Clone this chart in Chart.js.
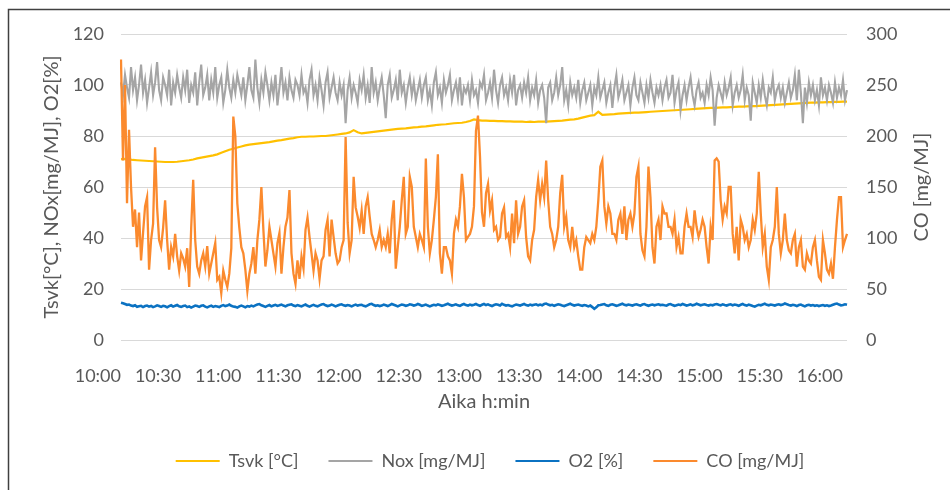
<!DOCTYPE html>
<html>
<head>
<meta charset="utf-8">
<script src="https://cdn.jsdelivr.net/npm/chart.js@4/dist/chart.umd.min.js"></script>
<style>
  html, body { margin: 0; padding: 0; background: #ffffff; }
  #wrap { width: 950px; height: 490px; }
</style>
</head>
<body>
<div id="wrap"><canvas id="chart" width="950" height="490"></canvas></div>
<script>
// ===============================
// BOILER LOG: Tsvk / NOx / O2 / CO
// ===============================

// one reading per minute from 10:00
const startHour = 10;
const stepMin = 1;
const sampleCount = 363;

// Tsvk [°C], left axis, read every 2 minutes
const tsvk = [
  70.9, 71.0, 70.8, 70.6, 70.5, 70.4, 70.3, 70.2, 70.1, 70.0, 69.9, 69.8, 69.8, 69.8, 69.9,
  70.1, 70.3, 70.5, 70.8, 71.2, 71.5, 71.8, 72.1, 72.4, 72.8, 73.4, 74.0, 74.6, 75.0, 75.5,
  75.9, 76.3, 76.6, 76.8, 77.0, 77.2, 77.4, 77.6, 77.9, 78.2, 78.4, 78.7, 79.0, 79.2, 79.5,
  79.7, 79.7, 79.8, 79.8, 79.9, 80.0, 80.0, 80.2, 80.4, 80.6, 80.8, 81.0, 81.4, 82.3, 81.5,
  81.0, 81.2, 81.4, 81.6, 81.8, 82.0, 82.2, 82.4, 82.6, 82.8, 82.9, 83.0, 83.2, 83.4, 83.5,
  83.7, 83.8, 84.0, 84.2, 84.4, 84.5, 84.6, 84.8, 85.0, 85.1, 85.2, 85.5, 85.9, 86.5, 86.2,
  86.0, 86.0, 85.9, 85.9, 85.8, 85.8, 85.7, 85.7, 85.6, 85.6, 85.6, 85.5, 85.6, 85.5, 85.6,
  85.6, 85.6, 85.7, 85.8, 85.9, 86.0, 86.2, 86.4, 86.5, 86.8, 87.2, 87.6, 88.0, 88.2, 89.5,
  88.3, 88.4, 88.5, 88.6, 88.8, 88.9, 89.0, 89.1, 89.2, 89.2, 89.3, 89.4, 89.5, 89.6, 89.7,
  89.8, 89.9, 90.0, 90.1, 90.2, 90.3, 90.4, 90.5, 90.6, 90.7, 90.8, 90.9, 91.0, 91.0, 91.1,
  91.2, 91.2, 91.3, 91.4, 91.5, 91.5, 91.6, 91.7, 91.7, 91.8, 91.9, 92.0, 92.1, 92.2, 92.3,
  92.4, 92.5, 92.6, 92.7, 92.8, 92.9, 93.0, 93.1, 93.1, 93.2, 93.2, 93.3, 93.3, 93.4, 93.4,
  93.5, 93.5
];

// NOx [mg/MJ], left axis
const nox = [
  101, 96, 104, 99, 95, 107, 98, 103, 94, 100, 108, 97, 102, 93, 99, 105, 96, 101, 109, 98, 94, 103, 100, 96, 106, 92, 101, 97, 104, 99,
  95, 103, 98, 106, 93, 100, 97, 105, 92, 101, 108, 96, 99, 104, 94, 102, 97, 107, 95, 100, 103, 93, 98, 106, 99, 95, 102, 97, 104, 100,
  96, 103, 94, 100, 107, 98, 95, 110, 99, 93, 102, 97, 105, 100, 94, 101, 96, 104, 92, 99, 107, 97, 101, 94, 103, 98, 95, 102, 100, 96,
  104, 97, 99, 93, 102, 106, 96, 100, 94, 103, 98, 92, 101, 105, 95, 99, 103, 97, 94, 101, 96, 100, 85, 98, 103, 95, 100, 97, 93, 102,
  98, 104, 95, 100, 93, 107, 97, 101, 94, 99, 103, 96, 87, 100, 104, 95, 98, 102, 94, 106, 97, 100, 93, 99, 103, 96, 101, 94, 98, 102,
  95, 100, 103, 94, 98, 92, 101, 105, 96, 99, 93, 102, 97, 100, 104, 94, 98, 101, 95, 103, 92, 99, 97, 100, 94, 102, 96, 98, 93, 101,
  99, 104, 94, 97, 101, 95, 106, 98, 93, 100, 103, 96, 99, 94, 102, 97, 104, 92, 98, 100, 95, 101, 97, 103, 94, 99, 96, 102, 93, 98,
  100, 95, 85, 99, 101, 94, 97, 103, 96, 100, 107, 94, 98, 92, 101, 96, 99, 95, 102, 93, 98, 101, 94, 97, 100, 92, 99, 96, 103, 95,
  98, 101, 93, 97, 100, 91, 99, 104, 95, 98, 102, 94, 97, 100, 92, 99, 103, 96, 94, 101, 97, 93, 100, 95, 102, 97, 93, 99, 96, 100,
  94, 99, 102, 95, 97, 104, 93, 98, 101, 90, 96, 100, 94, 99, 103, 96, 92, 98, 101, 95, 97, 93, 100, 96, 103, 98, 84, 95, 100, 97,
  94, 101, 96, 99, 103, 92, 97, 100, 95, 98, 104, 94, 99, 96, 86, 101, 97, 93, 100, 95, 102, 96, 92, 99, 97, 103, 94, 98, 100, 95,
  99, 93, 97, 101, 95, 98, 104, 94, 106, 97, 85, 99, 93, 101, 96, 100, 94, 98, 92, 103, 96, 99, 94, 100, 97, 93, 101, 95, 99, 96,
  102, 94, 98
];

// O2 [%], left axis
const o2 = [
  14.6, 14.4, 14.1, 13.8, 13.9, 13.5, 13.3, 13.6, 13.0, 13.2, 13.4, 12.9, 13.3, 13.5, 13.1, 13.4, 12.9, 13.2, 13.6, 13.3, 13.0, 13.4, 13.2, 12.8, 13.3, 13.6, 13.1, 13.4, 13.7, 13.2,
  13.0, 13.3, 13.5, 12.9, 13.2, 12.7, 13.1, 13.5, 13.3, 13.0, 13.4, 13.6, 13.1, 12.8, 13.2, 13.5, 13.0, 13.3, 13.1, 12.9, 13.4, 13.7, 13.3, 13.5, 13.9, 13.4, 13.1, 13.0, 12.7, 13.2,
  13.5, 13.2, 12.8, 13.3, 13.1, 13.5, 13.2, 13.6, 13.9, 14.1, 13.6, 13.3, 13.0, 13.4, 13.7, 13.2, 13.5, 13.8, 13.4, 13.6, 13.9, 13.5, 13.2, 13.6, 13.8, 14.0, 13.5, 13.3, 13.7, 13.4,
  13.2, 13.6, 13.9, 13.4, 13.1, 13.5, 13.8, 13.4, 13.2, 13.6, 13.9, 14.1, 13.6, 13.3, 13.5, 13.9, 13.6, 13.2, 13.5, 13.8, 14.0, 13.6, 13.4, 13.7, 13.5, 13.2, 13.6, 13.9, 13.5, 13.7,
  13.8, 13.4, 13.2, 13.6, 14.0, 14.2, 13.7, 13.4, 13.6, 13.3, 13.5, 13.9, 13.6, 13.3, 13.7, 14.1, 13.8, 13.5, 13.2, 13.6, 13.9, 13.7, 13.4, 13.6, 14.0, 13.8, 13.5, 13.7, 14.1, 13.8,
  13.4, 13.6, 13.9, 13.5, 13.2, 13.5, 13.8, 13.6, 14.0, 13.7, 13.4, 13.6, 13.9, 14.2, 13.8, 13.5, 13.7, 14.0, 13.6, 13.4, 13.8, 14.1, 13.7, 13.5, 13.9, 13.6, 13.8, 14.1, 13.7, 13.4,
  13.8, 14.1, 13.7, 14.0, 13.6, 13.3, 13.7, 14.0, 13.8, 13.5, 14.2, 13.8, 13.5, 13.7, 13.4, 13.2, 13.6, 13.9, 13.7, 13.5, 13.8, 14.1, 13.7, 13.5, 13.9, 13.6, 13.8, 14.0, 13.6, 13.9,
  13.6, 14.1, 14.3, 13.9, 13.6, 13.8, 13.4, 13.7, 14.0, 13.8, 13.5, 13.3, 13.6, 13.9, 14.2, 13.8, 13.5, 13.7, 13.9, 13.6, 13.4, 13.7, 13.5, 13.2, 13.5, 12.9, 12.2, 12.8, 13.6, 13.7,
  13.9, 14.1, 13.6, 13.4, 13.8, 14.0, 13.7, 13.4, 13.6, 13.9, 14.2, 13.8, 13.6, 13.9, 13.7, 13.5, 13.8, 14.0, 13.7, 13.5, 13.9, 14.1, 13.7, 13.4, 13.7, 13.9, 13.6, 13.8, 14.0, 13.7,
  13.8, 13.6, 13.5, 13.9, 14.1, 13.7, 13.4, 13.6, 13.9, 13.7, 14.1, 13.8, 13.5, 13.7, 14.0, 13.6, 13.8, 14.2, 13.9, 13.6, 13.8, 14.0, 13.7, 13.5, 13.8, 13.6, 13.9, 14.1, 13.8, 13.6,
  14.0, 13.7, 13.5, 13.8, 14.0, 13.6, 13.9, 13.7, 13.4, 13.8, 14.1, 13.7, 13.5, 13.9, 13.6, 13.3, 13.1, 13.5, 13.8, 13.6, 13.9, 14.2, 13.8, 13.6, 13.9, 13.7, 13.5, 13.8, 14.0, 13.7,
  13.9, 14.3, 14.0, 13.7, 13.5, 13.8, 13.6, 13.3, 13.7, 13.9, 13.5, 13.2, 13.6, 13.8, 13.5, 13.7, 13.4, 13.6, 13.3, 13.5, 13.7, 13.4, 13.6, 13.3, 13.5, 13.8, 14.1, 14.3, 13.9, 13.6,
  13.7, 14.0, 13.8
];

// CO [mg/MJ], right axis
const co = [
  275, 176, 250, 134, 206, 150, 111, 128, 91, 125, 78, 105, 131, 140, 69, 98, 114, 189, 130, 98, 91, 110, 137, 98, 69, 91, 82, 104, 82, 68,
  85, 80, 72, 90, 52, 110, 157, 98, 72, 65, 78, 85, 72, 92, 65, 75, 85, 95, 59, 62, 46, 68, 59, 52, 65, 90, 219, 200, 134, 110,
  91, 85, 69, 48, 65, 75, 91, 65, 98, 118, 150, 108, 72, 88, 111, 98, 85, 72, 95, 105, 65, 91, 111, 120, 147, 85, 65, 55, 78, 60,
  82, 70, 108, 120, 101, 85, 68, 85, 78, 60, 78, 82, 108, 118, 82, 118, 101, 85, 75, 78, 91, 98, 199, 115, 85, 98, 160, 130, 121, 110,
  127, 104, 131, 140, 121, 104, 98, 91, 98, 108, 91, 98, 91, 104, 85, 118, 137, 70, 91, 111, 137, 160, 104, 111, 160, 150, 111, 101, 91, 104,
  98, 91, 178, 111, 85, 98, 118, 140, 182, 85, 65, 91, 91, 82, 78, 65, 104, 118, 111, 131, 163, 140, 98, 101, 104, 111, 131, 205, 220, 180,
  125, 111, 144, 153, 127, 137, 108, 111, 98, 101, 124, 130, 101, 104, 91, 124, 95, 137, 104, 111, 131, 137, 101, 82, 78, 98, 108, 140, 157, 137,
  153, 140, 176, 137, 111, 104, 91, 98, 111, 144, 162, 111, 121, 98, 91, 111, 91, 98, 82, 69, 69, 91, 101, 98, 95, 104, 98, 111, 137, 170,
  176, 131, 114, 131, 124, 104, 104, 98, 118, 124, 104, 131, 98, 118, 124, 111, 124, 160, 170, 104, 88, 82, 111, 170, 140, 91, 75, 111, 118, 98,
  131, 124, 124, 111, 111, 104, 118, 91, 101, 85, 85, 111, 124, 111, 111, 101, 127, 111, 101, 108, 118, 111, 91, 75, 111, 98, 176, 178, 175, 137,
  118, 131, 124, 150, 150, 104, 85, 111, 78, 118, 111, 98, 104, 91, 98, 118, 108, 124, 165, 124, 91, 104, 72, 59, 91, 98, 111, 150, 104, 85,
  98, 124, 98, 88, 85, 98, 104, 72, 91, 98, 72, 69, 85, 78, 75, 91, 98, 78, 62, 59, 98, 85, 69, 65, 75, 60, 91, 118, 140, 140,
  91, 98, 104
];

const leftTicks = [0, 20, 40, 60, 80, 100, 120];
const rightTicks = [0, 50, 100, 150, 200, 250, 300];

// time labels h:mm
const times = [];
for (let i = 0; i < sampleCount; i++) {
    const t = startHour * 60 + i * stepMin;
    times.push(Math.floor(t / 60) + ":" + String(t % 60).padStart(2, "0"));
}

// Tsvk was read every second minute, the line spans the gaps
const tsvkPoints = times.map((t, i) => (i % 2 === 0 ? tsvk[i / 2] : null));

const textColor = "#595959";
const fontFamily = "Lato, 'Open Sans', sans-serif";

Chart.defaults.font.family = fontFamily;
Chart.defaults.color = textColor;

// outer frame + right-hand axis title (reads bottom to top like the left one)
const framePlugin = {
    id: "frame",
    beforeDraw(chart) {
        const ctx = chart.ctx;
        ctx.save();
        ctx.fillStyle = "#ffffff";
        ctx.fillRect(0, 0, chart.width, chart.height);
        ctx.strokeStyle = "#404040";
        ctx.lineWidth = 1.5;
        ctx.strokeRect(8.5, 9.5, 1200, 1200);
        ctx.restore();
    },
    afterDraw(chart) {
        const ctx = chart.ctx;
        const area = chart.chartArea;
        ctx.save();
        ctx.translate(922, (area.top + area.bottom) / 2);
        ctx.rotate(-Math.PI / 2);
        ctx.fillStyle = textColor;
        ctx.font = "20px " + fontFamily;
        ctx.textAlign = "center";
        ctx.textBaseline = "middle";
        ctx.fillText("CO [mg/MJ]", 0, 0);
        ctx.restore();
    }
};

function line(label, data, color, width, axis, order) {
    return {
        label: label,
        data: data,
        yAxisID: axis,
        borderColor: color,
        backgroundColor: color,
        borderWidth: width,
        pointRadius: 0,
        tension: 0,
        fill: false,
        spanGaps: true,
        order: order
    };
}

new Chart(document.getElementById("chart"), {
    type: "line",
    data: {
        labels: times,
        datasets: [
            line("Tsvk [°C]", tsvkPoints, "#FFC000", 2.2, "y", 4),
            line("Nox [mg/MJ]", nox, "#A5A5A5", 2.1, "y", 3),
            line("O2 [%]", o2, "#0B72C2", 2.6, "y", 2),
            line("CO [mg/MJ]", co, "#FB8A2E", 2.3, "y1", 1)
        ]
    },
    plugins: [framePlugin],
    options: {
        responsive: false,
        animation: false,
        layout: {
            padding: { top: 34, bottom: 10, left: 30, right: 0 }
        },
        plugins: {
            tooltip: { enabled: false },
            legend: {
                position: "bottom",
                labels: {
                    boxWidth: 44,
                    boxHeight: 2,
                    padding: 30,
                    color: textColor,
                    font: { size: 18 },
                    sort: (a, b) => a.datasetIndex - b.datasetIndex,
                    generateLabels(chart) {
                        const items = Chart.defaults.plugins.legend.labels.generateLabels(chart);
                        items.forEach(it => {
                            it.lineWidth = 0;
                            it.fillStyle = it.strokeStyle;
                        });
                        return items;
                    }
                }
            }
        },
        scales: {
            x: {
                type: "category",
                offset: false,
                grid: { display: false },
                border: { display: false },
                ticks: {
                    autoSkip: false,
                    maxRotation: 0,
                    align: "end",
                    padding: 17,
                    color: textColor,
                    font: { size: 18 },
                    callback: function(value, index) {
                        return index % 30 === 0 ? times[index] : null;
                    }
                },
                title: {
                    display: true,
                    text: "Aika h:min",
                    color: textColor,
                    font: { size: 20 },
                    padding: { top: 0, bottom: 8 }
                },
                afterFit(scale) { scale.height = 82; }
            },
            y: {
                position: "left",
                min: 0,
                max: 120,
                afterBuildTicks(scale) { scale.ticks = leftTicks.map(v => ({ value: v })); },
                grid: { color: "#D9D9D9", lineWidth: 1, drawTicks: false },
                border: { display: false },
                ticks: {
                    padding: 17,
                    color: textColor,
                    font: { size: 18 }
                },
                title: {
                    display: true,
                    text: "Tsvk[°C], NOx[mg/MJ], O2[%]",
                    color: textColor,
                    font: { size: 20 },
                    padding: { top: 10, bottom: 0 }
                },
                afterFit(scale) { scale.width = 91; }
            },
            y1: {
                position: "right",
                min: 0,
                max: 300,
                afterBuildTicks(scale) { scale.ticks = rightTicks.map(v => ({ value: v })); },
                grid: { display: false, drawTicks: false },
                border: { display: false },
                ticks: {
                    padding: 19,
                    color: textColor,
                    font: { size: 18 }
                },
                afterFit(scale) { scale.width = 103; }
            }
        }
    }
});
</script>
</body>
</html>
